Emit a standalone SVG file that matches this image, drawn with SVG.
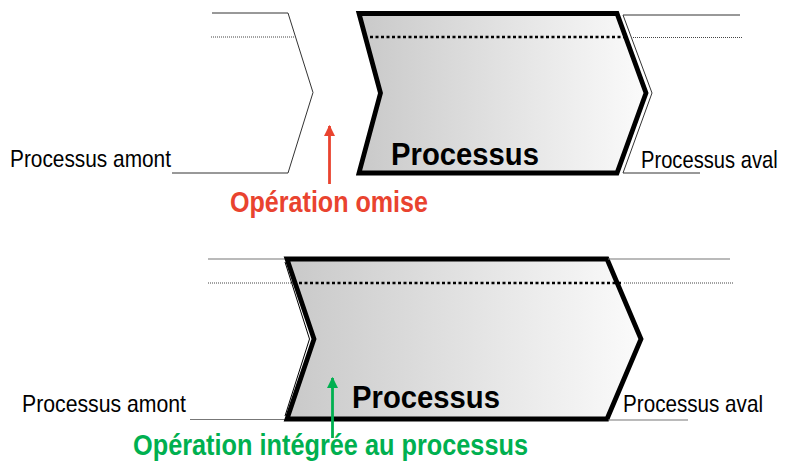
<svg xmlns="http://www.w3.org/2000/svg" width="785" height="468" viewBox="0 0 785 468">
<defs>
<linearGradient id="g" x1="0" y1="0" x2="1" y2="0">
<stop offset="0" stop-color="#c9c9c9"/>
<stop offset="1" stop-color="#fbfbfb"/>
</linearGradient>
<marker id="ah-red" viewBox="0 0 10 10" refX="9" refY="5" markerWidth="4" markerHeight="4" orient="auto" markerUnits="strokeWidth">
<path d="M0,0 L10,5 L0,10 z" fill="#e9432f"/>
</marker>
<marker id="ah-green" viewBox="0 0 10 10" refX="9" refY="5" markerWidth="4" markerHeight="4" orient="auto" markerUnits="strokeWidth">
<path d="M0,0 L10,5 L0,10 z" fill="#00b050"/>
</marker>
</defs>
<style>
.main{fill:url(#g);stroke:#000;stroke-width:4.8;stroke-linejoin:miter}
.thin{fill:none;stroke:#333;stroke-width:1}
.gline{fill:none;stroke:#777;stroke-width:1.2}
.dotthin{fill:none;stroke:#444;stroke-width:1;stroke-dasharray:1 1}
.dotthick{fill:none;stroke:#000;stroke-width:2.5;stroke-dasharray:3 2.5}
.lbl{font-family:'Liberation Sans Narrow','Liberation Sans',Arial,sans-serif;font-size:24px;fill:#000}
.big{font-family:'Liberation Sans Narrow','Liberation Sans',Arial,sans-serif;font-size:32px;font-weight:bold;fill:#000}
.note{font-family:'Liberation Sans Narrow','Liberation Sans',Arial,sans-serif;font-size:29px;font-weight:bold}
</style>

<!-- Top scenario -->
<g id="top-amont">
<polyline class="thin" points="212,13 288,13 313,92.5 288,173 172,173"/>
<line class="dotthin" x1="211" y1="37" x2="294" y2="37"/>
<text class="lbl" x="10" y="167" textLength="161" lengthAdjust="spacingAndGlyphs">Processus amont</text>
</g>
<g id="top-processus">
<path class="main" d="M359,13.5 L617,13.5 L646,93 L617,173 L359,173 L380.5,93 Z"/>
<line class="dotthick" x1="370" y1="37" x2="624" y2="37"/>
<text class="big" x="391" y="165" textLength="148" lengthAdjust="spacingAndGlyphs">Processus</text>
</g>
<g id="top-aval">
<polyline class="thin" points="740,15 623,15 652,93 623,173 700,173"/>
<line class="dotthin" x1="633" y1="37.5" x2="742" y2="37.5"/>
<text class="lbl" transform="translate(641 168) scale(0.84 1)" x="0" y="0">Processus aval</text>
</g>
<g id="note-omise">
<text class="note" x="230" y="212" fill="#e9432f" textLength="198" lengthAdjust="spacingAndGlyphs">Opération omise</text>
</g>

<!-- Bottom scenario -->
<g id="bottom-amont">
<line class="gline" x1="208" y1="259" x2="286" y2="259"/>
<line class="dotthin" x1="208" y1="283" x2="293" y2="283"/>
<line class="gline" x1="190" y1="419.5" x2="286" y2="419.5"/>
<text class="lbl" x="22" y="412" textLength="164" lengthAdjust="spacingAndGlyphs">Processus amont</text>
</g>
<g id="bottom-processus">
<path class="main" d="M287,259 L607,259 L641,339 L607,419 L287,419 L314,339 Z"/>
<polyline fill="none" stroke="#000" stroke-width="1" points="285,262 309.5,339 285,416"/>
<line class="dotthick" x1="299" y1="283" x2="622" y2="283"/>
<text class="big" x="352" y="408" textLength="148" lengthAdjust="spacingAndGlyphs">Processus</text>
</g>
<g id="bottom-aval">
<line class="gline" x1="608" y1="259" x2="730" y2="259"/>
<line class="dotthin" x1="624" y1="283" x2="734" y2="283"/>
<line class="gline" x1="608" y1="420" x2="688" y2="420"/>
<text class="lbl" x="623" y="412" textLength="140" lengthAdjust="spacingAndGlyphs">Processus aval</text>
</g>
<g id="note-integree">
<text class="note" x="133" y="455" fill="#00b050" textLength="395" lengthAdjust="spacingAndGlyphs">Opération intégrée au processus</text>
</g>

<g id="connectors">
<line x1="329.5" y1="184" x2="329.5" y2="126" stroke="#e9432f" stroke-width="2.8" marker-end="url(#ah-red)"/>
<line x1="332.5" y1="438" x2="332.5" y2="378" stroke="#00b050" stroke-width="2.8" marker-end="url(#ah-green)"/>
</g>
</svg>
